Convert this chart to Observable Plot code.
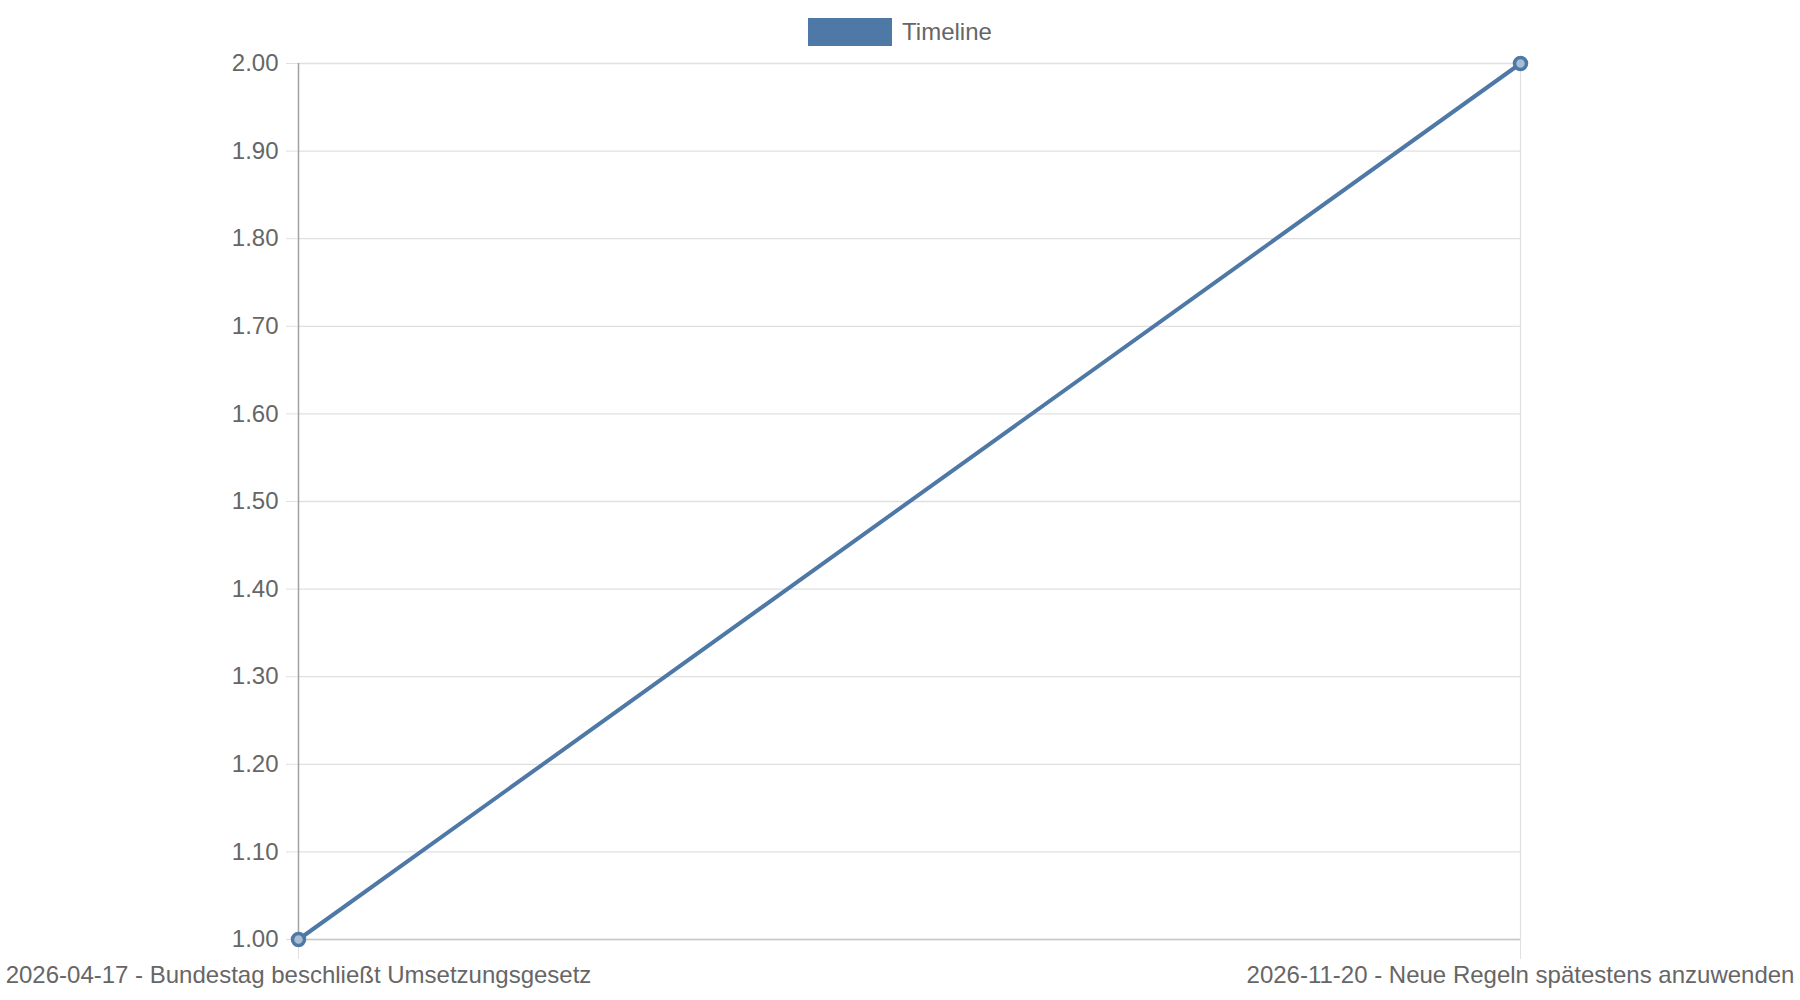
<!DOCTYPE html>
<html>
<head>
<meta charset="utf-8">
<script src="https://cdn.jsdelivr.net/npm/d3@7"></script>
<script src="https://cdn.jsdelivr.net/npm/@observablehq/plot@0.6"></script>
<style>
  html, body { margin: 0; padding: 0; background: #fff; }
  body { width: 1800px; height: 1000px; font-family: "Liberation Sans", Arial, sans-serif; }
  #legend { height: 50px; display: flex; justify-content: center; align-items: flex-start; box-sizing: border-box; }
  #legend .item { display: flex; align-items: center; margin-top: 18px; }
  #legend .swatch { width: 84px; height: 28px; background: #4e79a7; margin-right: 10px; }
  #legend .label { font-size: 24px; color: #666; }
  svg { overflow: visible; }
</style>
</head>
<body>
<div id="legend"></div>
<div id="chart"></div>
<script>
const seriesName = "Timeline";
const categories = [
  "2026-04-17 - Bundestag beschließt Umsetzungsgesetz",
  "2026-11-20 - Neue Regeln spätestens anzuwenden"
];
const values = [1, 2];
const yTicks = [1.0, 1.1, 1.2, 1.3, 1.4, 1.5, 1.6, 1.7, 1.8, 1.9, 2.0];

const color = "#4e79a7";
const data = categories.map((c, i) => ({ label: c, value: values[i] }));

document.getElementById("legend").innerHTML =
  `<div class="item"><div class="swatch"></div><div class="label">${seriesName}</div></div>`;

const chart = Plot.plot({
  width: 1800,
  height: 950,
  marginTop: 13,
  marginBottom: 61,
  marginLeft: 298,
  marginRight: 280,
  style: { fontFamily: "'Liberation Sans', Arial, sans-serif", fontSize: "24px", color: "#666", background: "#fff" },
  x: { type: "point", domain: categories, padding: 0 },
  y: { domain: [1, 2] },
  marks: [
    Plot.gridY(yTicks, { stroke: "#e0e0e0", strokeOpacity: 1, strokeWidth: 1.3 }),
    Plot.ruleX(categories.slice(1), { stroke: "#e0e0e0", strokeWidth: 1.3, y1: 1, y2: 2 }),
    Plot.axisY(yTicks, { tickFormat: d3.format(".2f"), tickSize: 12, tickPadding: 8, stroke: "#e0e0e0", strokeOpacity: 1, fill: "#666", fontSize: 24, label: null }),
    Plot.axisX(categories, { tickSize: 20, tickPadding: 6, stroke: "#e0e0e0", strokeOpacity: 1, fill: "#666", fontSize: 24, label: null }),
    Plot.ruleY([1], { stroke: "#c8c8c8", strokeWidth: 1.5 }),
    Plot.ruleX(categories.slice(0, 1), { stroke: "#a0a0a0", strokeWidth: 1.5, y1: 1, y2: 2 }),
    Plot.line(data, { x: "label", y: "value", stroke: color, strokeWidth: 4 }),
    Plot.dot(data, { x: "label", y: "value", r: 6, stroke: color, strokeWidth: 3.5, fill: "#a9bed4" })
  ]
});
document.getElementById("chart").appendChild(chart);
</script>
</body>
</html>
